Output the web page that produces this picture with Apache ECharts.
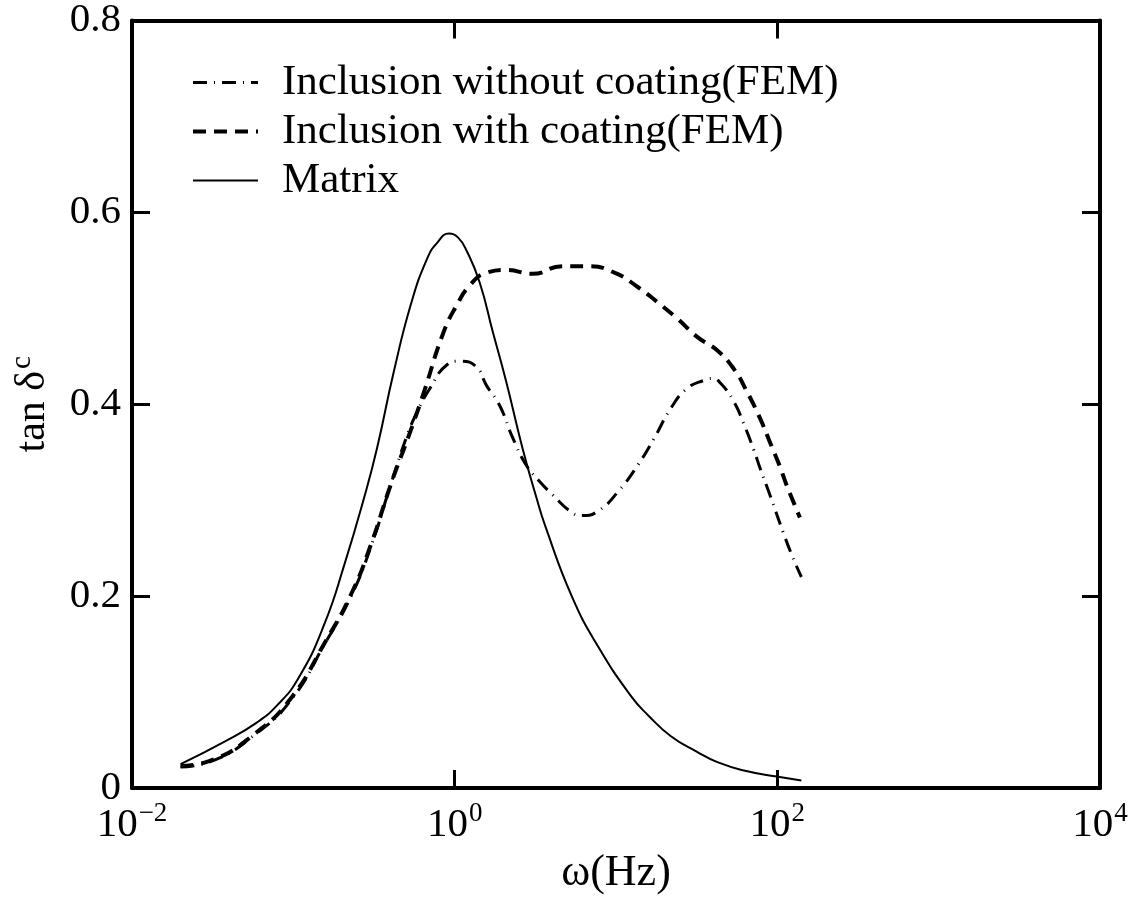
<!DOCTYPE html>
<html>
<head>
<meta charset="utf-8">
<style>html,body{margin:0;padding:0;background:#fff}#c{width:1137px;height:900px}</style>
<script src="https://cdn.jsdelivr.net/npm/echarts@6/dist/echarts.min.js"></script>
</head>
<body>
<div id="c"></div>
<script>
// ---- data ----
const seriesNames = ['Inclusion without coating(FEM)', 'Inclusion with coating(FEM)', 'Matrix'];

// omega in Hz, tan(delta) dimensionless
const matrixOmega = [0.020,0.038,0.059,0.079,0.107,0.155,0.209,0.275,0.331,0.417,0.537,0.676,0.776,0.923,1.047,1.186,1.429,1.726,2.084,2.636,3.184,3.664,5.35,7.78,12.5,15.8,21.9,31.6,42.5,63.1,99,141];
const matrixTan   = [0.025,0.049,0.068,0.086,0.114,0.170,0.235,0.303,0.355,0.432,0.505,0.552,0.568,0.578,0.574,0.560,0.527,0.475,0.424,0.354,0.305,0.272,0.199,0.147,0.095,0.076,0.054,0.038,0.027,0.018,0.012,0.008];

const coatOmega = [0.020,0.030,0.058,0.098,0.156,0.228,0.303,0.401,0.532,0.643,0.853,1.028,1.242,1.570,2.084,3.04,4.65,6.76,9.86,13.7,18.2,24.1,32.0,42.5,53.7,64.9,78.3,90.2,103.8,114,138];
const coatTan   = [0.023,0.028,0.057,0.095,0.151,0.202,0.254,0.316,0.372,0.412,0.475,0.503,0.524,0.537,0.540,0.536,0.544,0.544,0.537,0.522,0.506,0.489,0.470,0.456,0.437,0.413,0.385,0.360,0.335,0.316,0.282];

const noCoatOmega = [0.020,0.030,0.058,0.098,0.156,0.228,0.303,0.401,0.501,0.585,0.705,0.893,1.079,1.365,1.570,1.897,2.291,2.767,3.342,4.027,5.35,6.15,7.78,10.3,13.7,17.3,21.9,27.8,35.2,39.8,44.5,53.7,61.8,71.3,78.3,90.2,109,125,141];
const noCoatTan   = [0.022,0.027,0.056,0.093,0.150,0.200,0.252,0.316,0.365,0.392,0.417,0.441,0.445,0.439,0.420,0.399,0.365,0.337,0.320,0.306,0.287,0.284,0.289,0.309,0.337,0.365,0.396,0.417,0.425,0.427,0.422,0.403,0.380,0.353,0.333,0.305,0.266,0.240,0.220];

// axis ticks: decade exponents shown on the x axis, values on the y axis
const xTickExponents = [-2, 0, 2, 4];
const yTickValues = [0, 0.2, 0.4, 0.6, 0.8];

// ---- chart ----
const FONT = 'Liberation Serif';
// x axis is linear in log10(omega) (decades), same as a base-10 log axis
const pair = (xs, ys) => xs.map((x, i) => [Math.log10(x), ys[i]]);

const chart = echarts.init(document.getElementById('c'), null, {renderer: 'canvas'});

const axisLineStyle = {color: '#000', width: 4};
const tickStyle = {color: '#000', width: 3};
const xMin = xTickExponents[0], xMax = xTickExponents[xTickExponents.length - 1];
const xStep = xTickExponents[1] - xTickExponents[0];
const yMin = yTickValues[0], yMax = yTickValues[yTickValues.length - 1];
const yStep = yTickValues[1] - yTickValues[0];

function xLabel(e) {
  const r = Math.round(e);
  if (xTickExponents.indexOf(r) < 0) return '';
  return '{b|10}{s|' + (r < 0 ? '\u2212' + (-r) : r) + '}';
}
function yLabel(v) {
  const r = Math.round(v * 10) / 10;
  return r === 0 ? '0' : r.toFixed(1);
}

const xCommon = {
  type: 'value', min: xMin, max: xMax, interval: xStep,
  axisLine: {show: true, onZero: false, lineStyle: axisLineStyle},
  axisTick: {show: true, inside: true, length: 18, lineStyle: tickStyle},
  splitLine: {show: false}
};
const yCommon = {
  type: 'value', min: yMin, max: yMax, interval: yStep,
  axisLine: {show: true, onZero: false, lineStyle: axisLineStyle},
  axisTick: {show: true, inside: true, length: 18, lineStyle: tickStyle},
  splitLine: {show: false}
};

chart.setOption({
  animation: false,
  backgroundColor: '#fff',
  grid: {left: 122, top: 20, width: 978, height: 772, containLabel: false},
  legend: {
    show: true,
    left: 186, top: 56,
    orient: 'vertical',
    itemWidth: 65, itemHeight: 16,
    itemGap: 6,
    data: seriesNames,
    itemStyle: {opacity: 0, borderWidth: 0},
    lineStyle: {width: 'inherit'},
    textStyle: {fontFamily: FONT, fontSize: 43, color: '#000', padding: [0, 0, 0, 19], lineHeight: 43},
    selectedMode: false
  },
  xAxis: [Object.assign({}, xCommon, {
    position: 'bottom',
    name: '\u03c9(Hz)', nameLocation: 'middle', nameGap: 62,
    nameTextStyle: {fontFamily: FONT, fontSize: 44, color: '#000'},
    axisLabel: {
      show: true, margin: 12, formatter: xLabel, color: '#000',
      rich: {
        b: {fontFamily: FONT, fontSize: 41, color: '#000', verticalAlign: 'bottom', lineHeight: 46},
        s: {fontFamily: FONT, fontSize: 27, color: '#000', verticalAlign: 'top', lineHeight: 46, padding: [0, 0, 18, 1]}
      }
    }
  }), Object.assign({}, xCommon, {
    position: 'top',
    axisLabel: {show: false}
  })],
  yAxis: [Object.assign({}, yCommon, {
    position: 'left',
    name: '{t|tan \u03b4}{s|c}', nameLocation: 'middle', nameGap: 78, nameRotate: 90,
    nameTextStyle: {
      fontFamily: FONT, fontSize: 42, color: '#000',
      rich: {
        t: {fontFamily: FONT, fontSize: 42, color: '#000', verticalAlign: 'bottom', lineHeight: 46},
        s: {fontFamily: FONT, fontSize: 29, color: '#000', verticalAlign: 'top', lineHeight: 46, padding: [0, 0, 16, 2]}
      }
    },
    axisLabel: {show: true, margin: 11, formatter: yLabel, fontFamily: FONT, fontSize: 41, color: '#000'}
  }), Object.assign({}, yCommon, {
    position: 'right',
    axisLabel: {show: false}
  })],
  series: [{
    name: seriesNames[0], type: 'line', smooth: 0.5, symbol: 'none',
    data: pair(noCoatOmega, noCoatTan),
    lineStyle: {color: '#000', width: 3, type: [14, 7, 1, 7]},
    itemStyle: {color: '#000'}
  }, {
    name: seriesNames[1], type: 'line', smooth: 0.5, symbol: 'none',
    data: pair(coatOmega, coatTan),
    lineStyle: {color: '#000', width: 4, type: [13, 8]},
    itemStyle: {color: '#000'}
  }, {
    name: seriesNames[2], type: 'line', smooth: 0.5, symbol: 'none',
    data: pair(matrixOmega, matrixTan),
    lineStyle: {color: '#000', width: 2, type: 'solid'},
    itemStyle: {color: '#000'}
  }]
});
</script>
</body>
</html>
